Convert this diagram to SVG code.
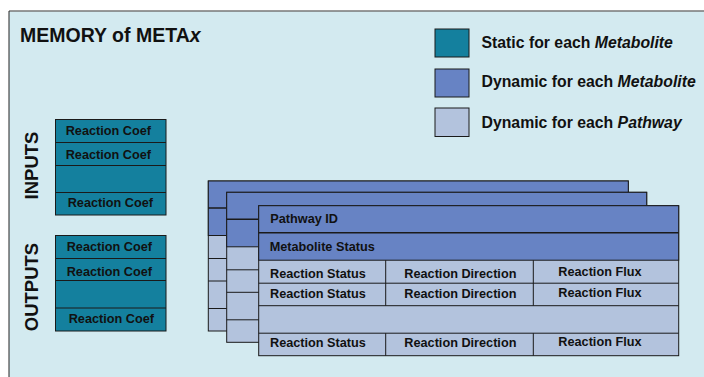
<svg xmlns="http://www.w3.org/2000/svg" xmlns:xlink="http://www.w3.org/1999/xlink" width="704" height="377" viewBox="0 0 704 377">
  <style>
    .bg { fill: #d3eaf0; }
    .static { fill: #14809e; stroke: #1a1a1a; stroke-width: 1; }
    .dynm { fill: #6783c4; stroke: #1a1a1a; stroke-width: 1; }
    .dynp { fill: #b3c3dd; stroke: #1a1a1a; stroke-width: 1; }
    .ln { stroke: #1a1a1a; stroke-width: 1; fill: none; }
    .ln2 { stroke: #1a1a1a; stroke-width: 1.6; fill: none; }
    text { font-family: "Liberation Sans", Arial, sans-serif; font-weight: bold; fill: #111; }
    .title { font-size: 19.5px; }
    .leg { font-size: 15.8px; }
    .side { font-size: 18.5px; }
    .cell { font-size: 12.7px; }
  </style>
  <defs>
    <!-- one pathway sheet: two per-metabolite rows, then reaction rows -->
    <g id="sheet">
      <rect class="dynp" x="0" y="0" width="420" height="150"/>
      <rect class="dynm" x="0" y="0" width="420" height="54.5"/>
      <line class="ln2" x1="0" y1="27" x2="420" y2="27"/>
      <line class="ln" x1="0" y1="77.5" x2="420" y2="77.5"/>
      <line class="ln" x1="0" y1="100" x2="420" y2="100"/>
      <line class="ln" x1="0" y1="127.5" x2="420" y2="127.5"/>
    </g>
  </defs>

  <!-- memory frame -->
  <g id="frame">
    <rect class="bg" x="9" y="11" width="700" height="370"/>
    <line x1="9" y1="11" x2="704" y2="11" stroke="#777" stroke-width="1.5"/>
    <line x1="9" y1="11" x2="9" y2="377" stroke="#222" stroke-width="1"/>
    <text class="title" x="20" y="41.7">MEMORY of META<tspan font-style="italic">x</tspan></text>
  </g>

  <!-- legend -->
  <g id="legend">
    <rect class="static" x="435" y="29" width="34" height="28"/>
    <text class="leg" x="481.5" y="48.3">Static for each <tspan font-style="italic">Metabolite</tspan></text>
    <rect class="dynm" x="435" y="69" width="34" height="28"/>
    <text class="leg" x="481.5" y="87">Dynamic for each <tspan font-style="italic">Metabolite</tspan></text>
    <rect class="dynp" x="435" y="108" width="34" height="28.5"/>
    <text class="leg" x="481.5" y="127.5">Dynamic for each <tspan font-style="italic">Pathway</tspan></text>
  </g>

  <!-- inputs -->
  <g id="inputs">
    <text class="side" transform="translate(38.3,165.5) rotate(-90)" text-anchor="middle">INPUTS</text>
    <rect class="static" x="55.5" y="119.5" width="110.5" height="95.5"/>
    <line class="ln" x1="55.5" y1="142.5" x2="166" y2="142.5"/>
    <line class="ln" x1="55.5" y1="165.5" x2="166" y2="165.5"/>
    <line class="ln" x1="55.5" y1="192.5" x2="166" y2="192.5"/>
    <text class="cell" x="65.7" y="135">Reaction Coef</text>
    <text class="cell" x="65.7" y="159.3">Reaction Coef</text>
    <text class="cell" x="67.7" y="207.3">Reaction Coef</text>
  </g>

  <!-- outputs -->
  <g id="outputs">
    <text class="side" transform="translate(38.3,287) rotate(-90)" text-anchor="middle">OUTPUTS</text>
    <rect class="static" x="55.5" y="235.5" width="110.5" height="95.5"/>
    <line class="ln" x1="55.5" y1="258.5" x2="166" y2="258.5"/>
    <line class="ln" x1="55.5" y1="280.5" x2="166" y2="280.5"/>
    <line class="ln" x1="55.5" y1="308" x2="166" y2="308"/>
    <text class="cell" x="66.7" y="251">Reaction Coef</text>
    <text class="cell" x="66.7" y="275.7">Reaction Coef</text>
    <text class="cell" x="68.7" y="322.7">Reaction Coef</text>
  </g>

  <!-- stacked pathway sheets, back to front -->
  <g id="pathway-back-2">
    <use xlink:href="#sheet" x="208.3" y="181"/>
  </g>
  <g id="pathway-back-1">
    <use xlink:href="#sheet" x="226.7" y="192.3"/>
  </g>
  <g id="pathway-front">
    <use xlink:href="#sheet" x="258.7" y="205.7"/>
    <line class="ln" x1="385.7" y1="260.2" x2="385.7" y2="305.7"/>
    <line class="ln" x1="533.3" y1="260.2" x2="533.3" y2="305.7"/>
    <line class="ln" x1="385.7" y1="333.2" x2="385.7" y2="355.7"/>
    <line class="ln" x1="533.3" y1="333.2" x2="533.3" y2="355.7"/>
    <text class="cell" x="270.3" y="222.7">Pathway ID</text>
    <text class="cell" x="269.7" y="250.7">Metabolite Status</text>
    <text class="cell" x="270" y="277.5">Reaction Status</text>
    <text class="cell" x="404.3" y="277.7">Reaction Direction</text>
    <text class="cell" x="558.3" y="275.7">Reaction Flux</text>
    <text class="cell" x="270" y="298.3">Reaction Status</text>
    <text class="cell" x="404.3" y="298.3">Reaction Direction</text>
    <text class="cell" x="558.3" y="297.3">Reaction Flux</text>
    <text class="cell" x="270" y="346.8">Reaction Status</text>
    <text class="cell" x="404.3" y="347.3">Reaction Direction</text>
    <text class="cell" x="558.3" y="346">Reaction Flux</text>
  </g>
</svg>
